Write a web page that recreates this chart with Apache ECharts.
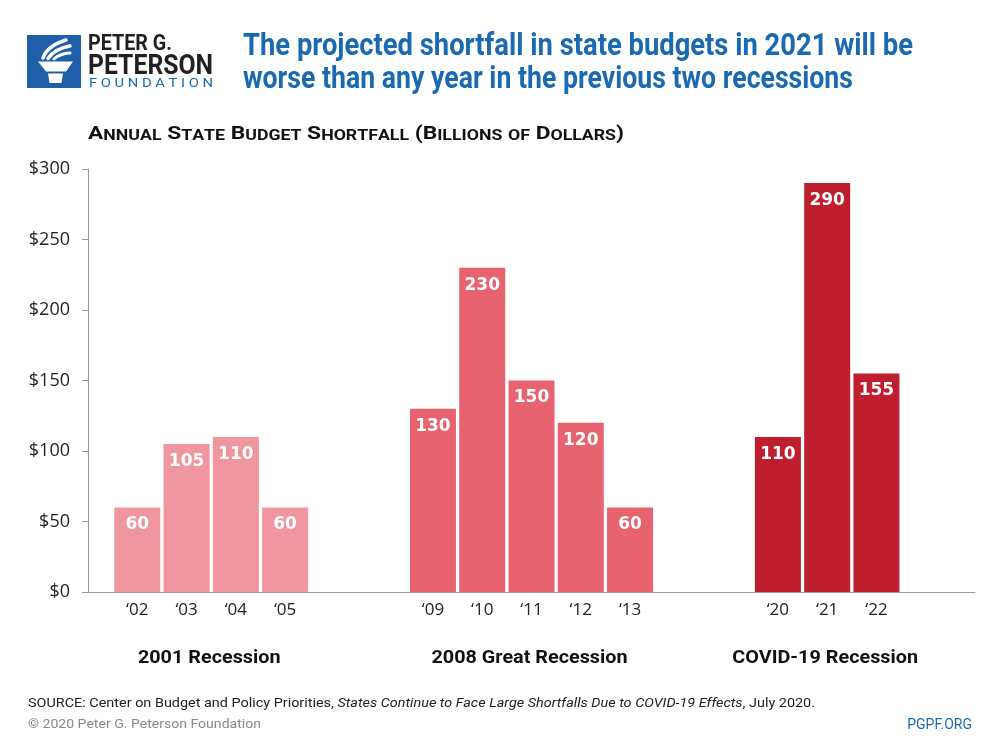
<!DOCTYPE html>
<html><head><meta charset="utf-8">
<script src="https://cdn.jsdelivr.net/npm/echarts@6/dist/echarts.min.js"></script>
<style>html,body{margin:0;padding:0;background:#fff}#c{width:1000px;height:750px}</style>
</head><body><div id="c"></div>
<script>
// ---- data ----
const years2001 = ['\u201802', '\u201803', '\u201804', '\u201805'];
const values2001 = [60, 105, 110, 60];
const years2008 = ['\u201809', '\u201810', '\u201811', '\u201812', '\u201813'];
const values2008 = [130, 230, 150, 120, 60];
const years2020 = ['\u201820', '\u201821', '\u201822'];
const values2020 = [110, 290, 155];
const groupNames = ['2001 Recession', '2008 Great Recession', 'COVID-19 Recession'];
const yTicks = [0, 50, 100, 150, 200, 250, 300];

const titleLines = ['The projected shortfall in state budgets in 2021 will be', 'worse than any year in the previous two recessions'];
const subtitleText = 'Annual State Budget Shortfall (Billions of Dollars)';
const sourcePlain = 'SOURCE: Center on Budget and Policy Priorities, ';
const sourceItalic = 'States Continue to Face Large Shortfalls Due to COVID-19 Effects';
const sourceEnd = ', July 2020.';
const copyrightText = '\u00A9 2020 Peter G. Peterson Foundation';
const siteText = 'PGPF.ORG';

// ---- build ----
const BLUE = '#1A6AB1';
const groups = [
  { years: years2001, values: values2001, color: '#EF969F' },
  { years: years2008, values: values2008, color: '#E6636F' },
  { years: years2020, values: values2020, color: '#BE1E2D' }
];
const categories = [''];
const spans = [];
groups.forEach((g, gi) => {
  if (gi > 0) categories.push('', '');
  const start = categories.length;
  g.years.forEach(y => categories.push(y));
  spans.push([start, categories.length - 1]);
});
categories.push('', '');

const series = groups.map((g, gi) => {
  const data = categories.map(() => null);
  g.values.forEach((v, i) => { data[spans[gi][0] + i] = v; });
  return {
    type: 'bar', name: groupNames[gi], data, barWidth: 46, barGap: '-100%',
    itemStyle: { color: g.color },
    label: { show: true, position: 'insideTop', distance: 9, color: '#fff',
      fontFamily: 'DejaVu Sans', fontWeight: 'bold', fontSize: 17 },
    emphasis: { disabled: true }
  };
});

const chart = echarts.init(document.getElementById('c'));
chart.setOption({
  animation: false,
  backgroundColor: '#fff',
  grid: { left: 88, right: 25, top: 169, bottom: 158 },
  xAxis: {
    type: 'category', data: categories, boundaryGap: false,
    axisLine: { lineStyle: { color: '#9a9a9a', width: 1 } },
    axisTick: { show: false },
    axisLabel: { interval: 0, margin: 10, color: '#222', fontFamily: 'Open Sans', fontSize: 17 }
  },
  yAxis: {
    type: 'value', min: yTicks[0], max: yTicks[yTicks.length - 1], interval: yTicks[1] - yTicks[0],
    axisLine: { show: true, lineStyle: { color: '#9a9a9a', width: 1 } },
    axisTick: { show: true, length: 6, lineStyle: { color: '#9a9a9a' } },
    splitLine: { show: false },
    axisLabel: { margin: 18, color: '#231F20', fontFamily: 'Open Sans', fontSize: 18, formatter: v => '$' + v }
  },
  series
});

// ---- text helpers ----
const ctx = document.createElement('canvas').getContext('2d');
function tw(str, font) { ctx.font = font; return ctx.measureText(str).width; }

function fitText(str, x, y, targetW, size, weight, color, family, align) {
  const font = weight + ' ' + size + 'px ' + family;
  const s = targetW / tw(str, font);
  return { type: 'text', x, y, scaleX: s, silent: true,
    style: { x: 0, y: 0, text: str, fill: color, fontSize: size, fontWeight: weight, fontFamily: family,
      align: align || 'left', verticalAlign: 'middle' } };
}

// subtitle in small caps
const BIG = 18, SMALL = 14;
let richStr = '', subW = 0;
const subFam = 'Roboto';
for (const ch of subtitleText) {
  const isLower = ch >= 'a' && ch <= 'z';
  const c = isLower ? ch.toUpperCase() : ch;
  const key = isLower ? 's' : 'b';
  richStr += '{' + key + '|' + c + '}';
  subW += tw(c, 'bold ' + (isLower ? SMALL : BIG) + 'px ' + subFam);
}
const subScale = 536 / subW;

// footer
const fFam = 'Roboto';
const fW = tw(sourcePlain, '13px ' + fFam) + tw(sourceItalic, 'italic 13px ' + fFam) + tw(sourceEnd, '13px ' + fFam);
const fScale = 787 / fW;

const graphics = [];
// logo
graphics.push({ type: 'rect', silent: true, shape: { x: 27, y: 35, width: 54, height: 53 }, style: { fill: '#1F5EA9' } });
graphics.push({ type: 'polygon', silent: true, shape: { points: [[38, 61.5], [73, 61.5], [66, 71.5], [46, 71.5]] }, style: { fill: '#fff' } });
graphics.push({ type: 'polygon', silent: true, shape: { points: [[48, 73.5], [63, 73.5], [61.5, 83], [49.5, 83]] }, style: { fill: '#fff' } });
graphics.push({ type: 'bezierCurve', silent: true, shape: { x1: 43, y1: 58, cpx1: 47, cpy1: 46, x2: 66, y2: 40 }, style: { stroke: '#fff', lineWidth: 3.5, fill: null, lineCap: 'round' } });
graphics.push({ type: 'bezierCurve', silent: true, shape: { x1: 48, y1: 58.5, cpx1: 54, cpy1: 49, x2: 70, y2: 46 }, style: { stroke: '#fff', lineWidth: 3.5, fill: null, lineCap: 'round' } });
graphics.push({ type: 'bezierCurve', silent: true, shape: { x1: 54, y1: 59, cpx1: 60, cpy1: 53.5, x2: 70, y2: 53 }, style: { stroke: '#fff', lineWidth: 3, fill: null, lineCap: 'round' } });
graphics.push(fitText('PETER G.', 88, 44.5, 84, 22, 'bold', '#231F20', 'Roboto'));
graphics.push(fitText('PETERSON', 88, 66.5, 125, 28, 'bold', '#231F20', 'Roboto'));
graphics.push(fitText('F O U N D A T I O N', 89, 83.5, 124, 12, 'normal', BLUE, 'Roboto'));

// title
graphics.push(fitText(titleLines[0], 243, 47.5, 670, 31, 'bold', BLUE, 'Roboto'));
graphics.push(fitText(titleLines[1], 243, 80.5, 610, 31, 'bold', BLUE, 'Roboto'));

// subtitle
graphics.push({ type: 'text', x: 88, y: 133, scaleX: subScale, silent: true,
  style: { x: 0, y: 0, text: richStr, verticalAlign: 'middle', fill: '#111',
    rich: { b: { fontSize: BIG, fontWeight: 'bold', fontFamily: subFam, fill: '#111', verticalAlign: 'bottom', lineHeight: 20 },
            s: { fontSize: SMALL, fontWeight: 'bold', fontFamily: subFam, fill: '#111', verticalAlign: 'bottom', lineHeight: 20 } } } });

// footer
graphics.push({ type: 'text', x: 28, y: 704, scaleX: fScale, silent: true,
  style: { x: 0, y: 0, text: '{n|' + sourcePlain + '}{i|' + sourceItalic + '}{n|' + sourceEnd + '}', verticalAlign: 'middle',
    rich: { n: { fontSize: 13, fontFamily: fFam, fill: '#222' }, i: { fontSize: 13, fontFamily: fFam, fontStyle: 'italic', fill: '#222' } } } });
graphics.push(fitText(copyrightText, 28, 725, 233, 13, 'normal', '#8a8a8a', 'Roboto'));
graphics.push({ type: 'text', x: 972, y: 725, silent: true,
  style: { text: siteText, fill: BLUE, fontSize: 14, fontFamily: 'Roboto', align: 'right', verticalAlign: 'middle' } });

// group labels from axis positions
const groupScale = 1.1;
spans.forEach((sp, i) => {
  const a = chart.convertToPixel({ xAxisIndex: 0 }, sp[0]);
  const b = chart.convertToPixel({ xAxisIndex: 0 }, sp[1]);
  graphics.push({ type: 'text', x: (a + b) / 2 - 2, y: 658, scaleX: groupScale, silent: true,
    style: { x: 0, y: 0, text: groupNames[i], fill: '#111', fontSize: 18, fontWeight: 'bold', fontFamily: 'Roboto', align: 'center', verticalAlign: 'middle' } });
});

chart.setOption({ graphic: graphics });
</script></body></html>
